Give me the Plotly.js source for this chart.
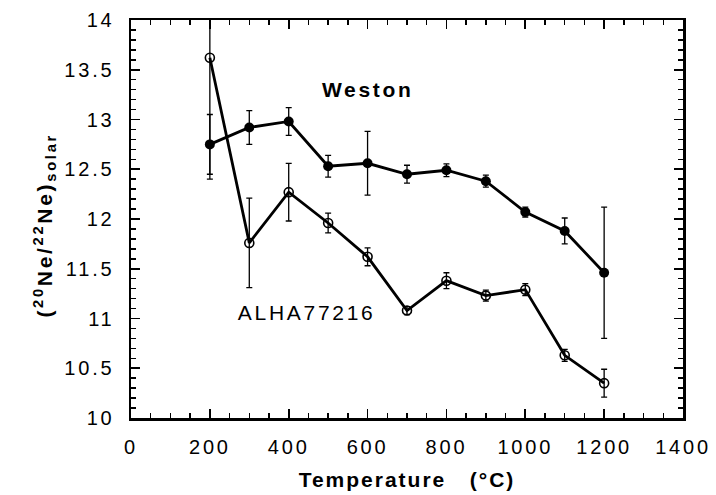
<!DOCTYPE html>
<html>
<head>
<meta charset="utf-8">
<script src="https://cdn.plot.ly/plotly-3.0.1.min.js"></script>
<style>
html,body{margin:0;padding:0;background:#fff;}
#chart{width:716px;height:495px;}
#chart g.xtick text, #chart g.ytick text{letter-spacing:2.8px;}
#chart .xtitle{letter-spacing:2px;}
#chart .annotation-text{letter-spacing:2.7px;}
</style>
</head>
<body>
<div id="chart"></div>
<script>
const temperature = [200, 300, 400, 500, 600, 700, 800, 900, 1000, 1100, 1200];
const westonRatio = [12.75, 12.92, 12.98, 12.53, 12.56, 12.45, 12.49, 12.38, 12.07, 11.88, 11.46];
const westonErr   = [0.30, 0.17, 0.14, 0.11, 0.32, 0.09, 0.065, 0.06, 0.05, 0.13, 0.66];
const alhaRatio   = [13.62, 11.76, 12.27, 11.96, 11.62, 11.08, 11.38, 11.23, 11.29, 10.63, 10.35];
const alhaErr     = [1.22, 0.45, 0.29, 0.10, 0.09, 0.04, 0.08, 0.055, 0.06, 0.06, 0.14];
const seriesNames = ['Weston', 'ALHA77216'];

const FAM = 'Liberation Sans, Arial, Helvetica, sans-serif';
const tickFont = {family: FAM, size: 20, color: '#000'};

const traces = [
  {
    x: temperature, y: westonRatio, name: seriesNames[0], type: 'scatter', mode: 'lines+markers',
    line: {color: '#000', width: 2.8},
    marker: {symbol: 'circle', size: 10, color: '#000'},
    error_y: {type: 'data', array: westonErr, visible: true, color: '#000', thickness: 1.3, width: 3}
  },
  {
    x: temperature, y: alhaRatio, name: seriesNames[1], type: 'scatter', mode: 'lines+markers',
    line: {color: '#000', width: 2.8},
    marker: {symbol: 'circle-open', size: 9, color: '#000', line: {width: 1.6, color: '#000'}},
    error_y: {type: 'data', array: alhaErr, visible: true, color: '#000', thickness: 1.3, width: 3}
  }
];

const axisCommon = {
  showgrid: false, zeroline: false, showline: true, linecolor: '#000', linewidth: 2.5,
  mirror: 'ticks', ticks: 'inside', ticklen: 9, tickwidth: 1.8, tickcolor: '#000',
  tickfont: tickFont
};

const layout = {
  width: 716, height: 495,
  margin: {l: 131, r: 33, t: 20, b: 77},
  paper_bgcolor: '#fff', plot_bgcolor: '#fff',
  showlegend: false,
  xaxis: Object.assign({}, axisCommon, {
    range: [0, 1400], dtick: 200, tick0: 0, ticklabelstandoff: 9,
    minor: {dtick: 50, ticks: 'inside', ticklen: 5, tickwidth: 1.5, tickcolor: '#000'},
    title: {text: '<b>Temperature   (°C)</b>', font: {family: FAM, size: 21, color: '#000'}, standoff: 16}
  }),
  yaxis: Object.assign({}, axisCommon, {
    range: [10, 14], dtick: 0.5, tick0: 10, ticklabelstandoff: 10,
    minor: {dtick: 0.1, ticks: 'inside', ticklen: 5, tickwidth: 1.5, tickcolor: '#000'}
  }),
  annotations: [
    {x: 0, y: 0.5, xref: 'paper', yref: 'paper', xshift: -87, yshift: -6, textangle: -90,
     xanchor: 'center', yanchor: 'middle', showarrow: false,
     text: '<b>(<sup>20</sup>Ne/<sup>22</sup>Ne)<sub>solar</sub></b>',
     font: {family: FAM, size: 21, color: '#000'}},
    {x: 600, y: 13.3, xref: 'x', yref: 'y', text: '<b>Weston</b>', showarrow: false,
     font: {family: FAM, size: 21, color: '#000'}},
    {x: 446, y: 11.06, xref: 'x', yref: 'y', text: 'ALHA77216', showarrow: false,
     font: {family: FAM, size: 21, color: '#000'}}
  ]
};

Plotly.newPlot('chart', traces, layout, {displayModeBar: false, staticPlot: true});
</script>
</body>
</html>
